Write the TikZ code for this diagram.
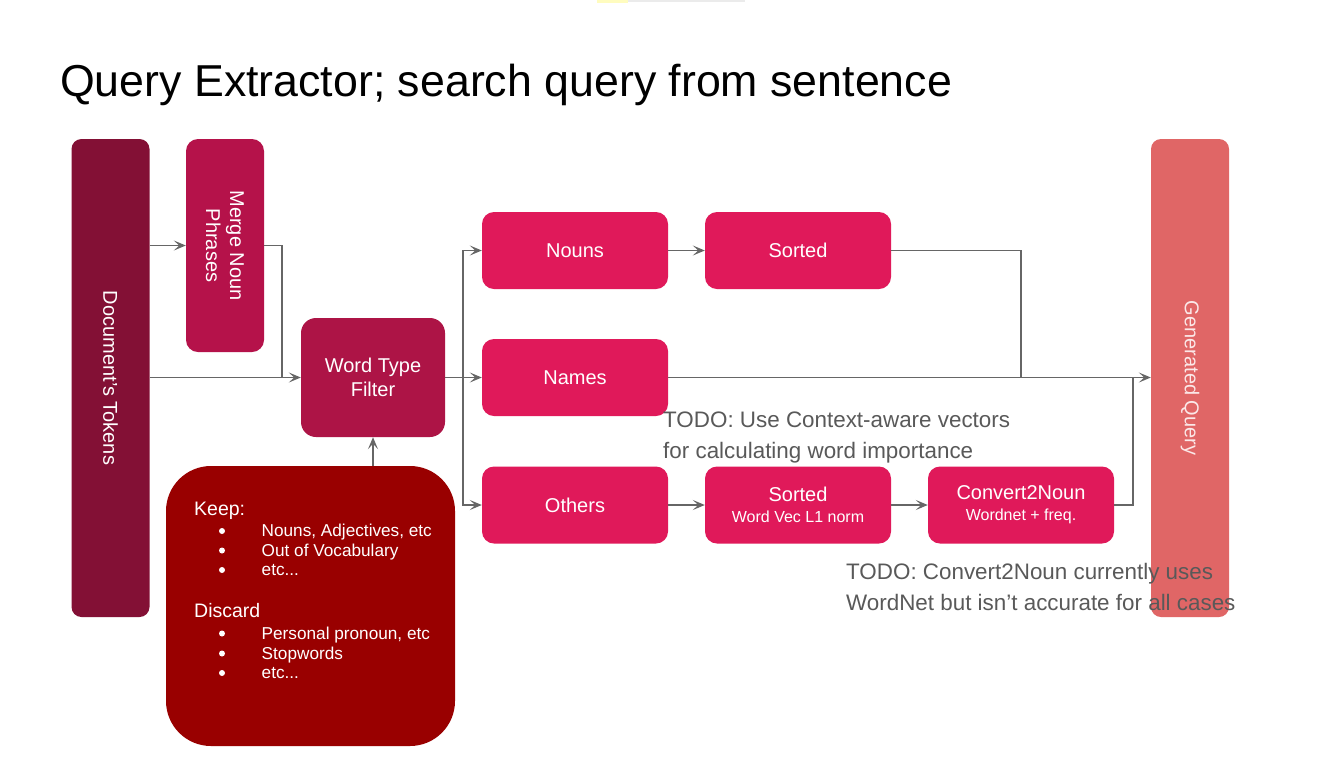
\documentclass[tikz,border=0pt]{standalone}
\usepackage{fontspec}
\setmainfont{Liberation Sans}
\usetikzlibrary{arrows.meta}

\definecolor{tokcol}{HTML}{831035}
\definecolor{mergecol}{HTML}{B5124A}
\definecolor{filtcol}{HTML}{AD1446}
\definecolor{stepcol}{HTML}{E0195A}
\definecolor{keepcol}{HTML}{990000}
\definecolor{gencol}{HTML}{E06666}
\definecolor{gentext}{HTML}{FBE8E8}
\definecolor{linecol}{HTML}{666666}
\definecolor{notecol}{HTML}{595959}

\newcommand{\fs}[1]{\fontsize{#1}{#1}\selectfont}

\tikzset{
  box/.style={draw=none, text=white, inner sep=0pt, align=center,
              font=\fontsize{20}{24}\selectfont},
  stagebox/.style={box, fill=stepcol, rounded corners=12pt,
                   minimum width=186pt, minimum height=77pt},
  % rotated by -90: width runs down the page, height across it
  tallbox/.style={box, rounded corners=10pt, minimum width=478pt, minimum height=78pt,
                  rotate=-90},
  arr/.style={draw=linecol, line width=1.5pt,
              -{Stealth[length=12pt, width=10pt, inset=5.5pt]}},
  wire/.style={draw=linecol, line width=1.5pt},
  note/.style={text=notecol, anchor=base west, inner sep=0pt, font=\fs{22.4}},
  listtext/.style={text=white, anchor=base west, inner sep=0pt, font=\fs{17.2}},
  listhead/.style={text=white, anchor=base west, inner sep=0pt, font=\fs{19.5}},
}

\begin{document}
\begin{tikzpicture}[x=1pt, y=-1pt]
\useasboundingbox (0,0) rectangle (1344,756);
\fill[white] (0,0) rectangle (1344,756);

% faint strip at the top edge
\fill[yellow!25!white] (597,0) rectangle (628,3);
\fill[black!8] (628,0) rectangle (745,2);

% title
\node[anchor=base west, inner sep=0pt, font=\fs{44.7}] (title) at (60,96)
  {Query Extractor; search query from sentence};

% main boxes
\node[tallbox, fill=tokcol] (tok) at (110.5,378) {Document’s Tokens};
\node[box, fill=mergecol, rounded corners=12pt, minimum width=213pt,
      minimum height=78pt, rotate=-90] (merge) at (225,245.5) {Merge Noun\\Phrases};
\node[box, fill=filtcol, rounded corners=15pt, minimum width=144pt,
      minimum height=119pt] (wtf) at (373,377.5) {Word Type\\Filter};
\node[box, fill=keepcol, rounded corners=45pt, minimum width=289pt,
      minimum height=280pt] (keep) at (310.5,606) {};

\node[stagebox] (nouns)   at (575,250.5) {Nouns};
\node[stagebox] (sorted)  at (798,250.5) {Sorted};
\node[stagebox] (names)   at (575,377.5) {Names};
\node[stagebox] (others)  at (575,505)   {Others};
\node[stagebox, font=\fontsize{20}{22}\selectfont] (sortvec) at (798,505)
  {Sorted\\[-1pt]{\fs{16}Word Vec L1 norm}};
\node[stagebox, font=\fontsize{20}{22}\selectfont] (conv) at (1021,505)
  {Convert2Noun\\[-1pt]{\fs{16}Wordnet + freq.}};

\node[tallbox, fill=gencol, text=gentext] (gen) at (1190,378) {Generated Query};

% keep / discard list
\node[listhead] (keephd) at (194,515) {Keep:};
\node[listtext] (k1) at (261.5,536.5) {Nouns, Adjectives, etc};
\node[listtext] (k2) at (261.5,556)   {Out of Vocabulary};
\node[listtext] (k3) at (261.5,575.5) {etc...};
\node[listhead] (dischd) at (194,617.5) {Discard};
\node[listtext] (d1) at (261.5,639)   {Personal pronoun, etc};
\node[listtext] (d2) at (261.5,659)   {Stopwords};
\node[listtext] (d3) at (261.5,678.5) {etc...};
\foreach \n in {k1,k2,k3,d1,d2,d3}
  \fill[white] (222,0 |- \n.base) ++(0,-5.5) circle (3pt);

% connectors (rotated boxes: north is their right side, south their left)
\coordinate (j1) at (282,377.5);
\coordinate (split) at (463,377.5);
\coordinate (m1) at (1021,378);
\coordinate (m2) at (1133,378);

\draw[arr] (tok.north |- merge.south) -- (merge.south);
\draw[wire] (merge.north) -| (j1);
\draw[arr] (tok.north |- wtf.west) -- (wtf.west);
\draw[arr] (keep.north -| wtf.south) -- (wtf.south);

\draw[wire] (wtf.east) -- (split);
\draw[arr] (split) |- (nouns.west);
\draw[arr] (split) -- (names.west);
\draw[arr] (split) |- (others.west);

\draw[arr] (nouns) -- (sorted);
\draw[wire] (sorted.east) -| (m1);
\draw[arr] (names.east) -- (names.east -| gen.south);
\draw[arr] (others) -- (sortvec);
\draw[arr] (sortvec) -- (conv);
\draw[wire] (conv.east) -| (m2);

% notes
\node[note] (todo1a) at (663,427) {TODO: Use Context-aware vectors};
\node[note] (todo1b) at (663,458) {for calculating word importance};
\node[note] (todo2a) at (846,579) {TODO: Convert2Noun currently uses};
\node[note] (todo2b) at (846,610) {WordNet but isn’t accurate for all cases};
\end{tikzpicture}
\end{document}
